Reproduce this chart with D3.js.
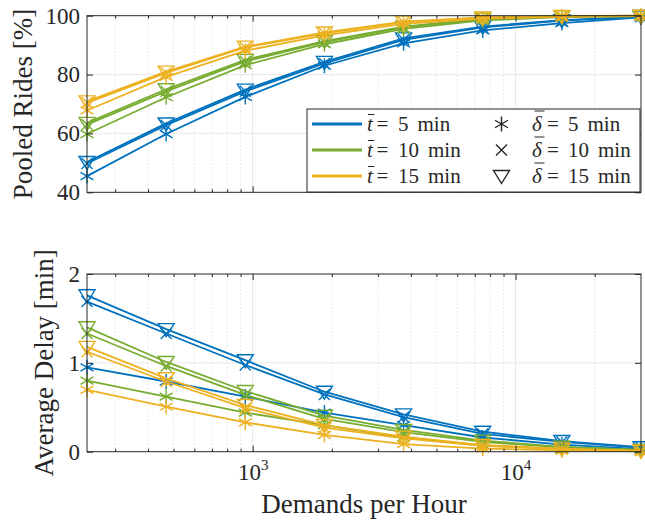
<!DOCTYPE html>
<html lang="en">
<head>
  <meta charset="UTF-8">
  <title>Pooled Rides / Average Delay - D3</title>
  <script src="https://d3js.org/d3.v7.min.js"></script>
  <style>
    body {
      margin: 0;
      background: #fff;
    }

    text {
      font-family: "Liberation Serif", "DejaVu Serif", serif;
      fill: #262626;
    }

    .axis-title {
      font-size: 27px;
      text-anchor: middle;
    }

    .grid-major {
      stroke: #e2e2e2;
      stroke-width: 0.8;
    }

    .grid-minor {
      stroke: #cdcdcd;
      stroke-width: 0.8;
      stroke-dasharray: 1, 2.5;
    }

    .box {
      fill: none;
      stroke: #262626;
      stroke-width: 1;
    }

    .series {
      fill: none;
      stroke-width: 1.8;
    }

    .legend-text {
      font-size: 21px;
    }
  </style>
</head>
<body>

<script>
  // Données
  var demand = [234.375, 468.75, 937.5, 1875, 3750, 7500, 15000, 30000];
  var waitTimes = [5, 10, 15];    // t barre
  var maxDelays = [5, 10, 15];    // delta barre
  var colors = ["#0072BD", "#77AC30", "#EDB120"];
  var majorX = [1000, 10000];
  var minorX = [300, 400, 500, 600, 700, 800, 900,
                2000, 3000, 4000, 5000, 6000, 7000, 8000, 9000, 20000];
  var pooledTicks = [40, 60, 80, 100];
  var delayTicks = [0, 1, 2];

  // Pooled rides [%]
  var pooledT5D5   = [45.5, 59.8, 72.4, 83.0, 90.6, 95.0, 97.5, 99.4];
  var pooledT5D10  = [49.8, 62.8, 74.3, 83.8, 91.8, 96.0, 98.3, 99.6];
  var pooledT5D15  = [50.3, 63.4, 74.9, 84.3, 92.3, 96.3, 98.5, 99.7];
  var pooledT10D5  = [59.8, 72.3, 83.2, 90.3, 95.5, 98.4, 99.5, 99.9];
  var pooledT10D10 = [63.0, 74.3, 84.5, 91.0, 96.0, 98.8, 99.7, 99.9];
  var pooledT10D15 = [63.6, 75.0, 85.0, 91.4, 96.3, 99.0, 99.8, 100];
  var pooledT15D5  = [67.8, 79.2, 88.1, 93.3, 97.2, 99.0, 99.7, 99.9];
  var pooledT15D10 = [70.4, 80.6, 89.2, 94.0, 97.8, 99.3, 99.8, 100];
  var pooledT15D15 = [70.9, 81.0, 89.5, 94.3, 98.0, 99.4, 99.9, 100];

  // Average delay [min]
  var delayT5D5   = [0.95, 0.79, 0.62, 0.44, 0.30, 0.16, 0.08, 0.03];
  var delayT5D10  = [1.69, 1.33, 0.976, 0.645, 0.39, 0.20, 0.11, 0.045];
  var delayT5D15  = [1.76, 1.38, 1.03, 0.675, 0.42, 0.225, 0.12, 0.05];
  var delayT10D5  = [0.80, 0.62, 0.44, 0.30, 0.16, 0.07, 0.03, 0.01];
  var delayT10D10 = [1.33, 0.965, 0.64, 0.37, 0.22, 0.11, 0.05, 0.02];
  var delayT10D15 = [1.40, 1.01, 0.683, 0.405, 0.245, 0.125, 0.055, 0.02];
  var delayT15D5  = [0.695, 0.506, 0.33, 0.19, 0.085, 0.035, 0.015, 0.005];
  var delayT15D10 = [1.125, 0.79, 0.49, 0.27, 0.15, 0.065, 0.03, 0.01];
  var delayT15D15 = [1.18, 0.826, 0.525, 0.30, 0.17, 0.075, 0.035, 0.01];

  var pooledSeries = [
    [pooledT5D5, pooledT5D10, pooledT5D15],
    [pooledT10D5, pooledT10D10, pooledT10D15],
    [pooledT15D5, pooledT15D10, pooledT15D15]
  ];
  var delaySeries = [
    [delayT5D5, delayT5D10, delayT5D15],
    [delayT10D5, delayT10D10, delayT10D15],
    [delayT15D5, delayT15D10, delayT15D15]
  ];

  var svg = d3.select("body")
              .append("svg")
              .attr("width", 645)
              .attr("height", 520);

  // Échelles
  var x = d3.scaleLog().domain([demand[0], demand[demand.length - 1]]).range([87, 641]);
  var yPooled = d3.scaleLinear().domain([40, 100]).range([192.3, 15.7]);
  var yDelay = d3.scaleLinear().domain([0, 2]).range([451.7, 274]);

  // Marqueurs (0: asterisque, 1: croix, 2: triangle vers le bas)
  function marker(sel, type, color) {
    sel.attr("fill", "none").attr("stroke", color).attr("stroke-width", 1.4);
    if (type === 0) {
      var r = 7.5, a = r * Math.cos(Math.PI / 6), b = r * Math.sin(Math.PI / 6);
      sel.append("path").attr("d", `M0,${-r}V${r}M${-a},${-b}L${a},${b}M${-a},${b}L${a},${-b}`);
    } else if (type === 1) {
      var s = 5.5;
      sel.append("path").attr("d", `M${-s},${-s}L${s},${s}M${-s},${s}L${s},${-s}`);
    } else {
      sel.append("path").attr("d", "M-8,-5.5L8,-5.5L0,7.5Z");
    }
  }

  function tickStyle(a) {
    a.selectAll(".tick text")
     .style("font-family", "'Liberation Serif', serif")
     .style("font-size", "23px");
  }

  function panel(y, ticks, series, title, titleX, showXLabels) {
    var g = svg.append("g");
    var xr = x.range(), yr = y.range();

    // Grille
    g.selectAll(".gmin").data(minorX).enter().append("line")
     .attr("class", "grid-minor")
     .attr("x1", d => x(d)).attr("x2", d => x(d))
     .attr("y1", yr[0]).attr("y2", yr[1]);
    g.selectAll(".gmx").data(majorX).enter().append("line")
     .attr("class", "grid-major")
     .attr("x1", d => x(d)).attr("x2", d => x(d))
     .attr("y1", yr[0]).attr("y2", yr[1]);
    g.selectAll(".gmy").data(ticks.slice(1, -1)).enter().append("line")
     .attr("class", "grid-major")
     .attr("x1", xr[0]).attr("x2", xr[1])
     .attr("y1", d => y(d)).attr("y2", d => y(d));

    // Courbes
    var line = d3.line().x((d, i) => x(demand[i])).y(d => y(d));
    series.forEach(function(group, c) {
      group.forEach(function(vals, m) {
        g.append("path")
         .datum(vals)
         .attr("class", "series")
         .attr("stroke", colors[c])
         .attr("d", line);
        g.selectAll(null).data(vals).enter().append("g")
         .attr("transform", (d, i) => `translate(${x(demand[i])},${y(d)})`)
         .each(function() { marker(d3.select(this), m, colors[c]); });
      });
    });

    // Cadre
    g.append("rect").attr("class", "box")
     .attr("x", xr[0]).attr("y", yr[1])
     .attr("width", xr[1] - xr[0]).attr("height", yr[0] - yr[1]);

    function clean(a) { a.select(".domain").remove(); a.attr("color", "#262626"); }

    // Axes X (bas et haut), graduations vers l'intérieur
    var bottom = g.append("g").attr("transform", `translate(0,${yr[0]})`)
      .call(d3.axisBottom(x).tickValues(majorX).tickSizeInner(-6).tickSizeOuter(0)
            .tickPadding(13).tickFormat("")).call(clean);
    g.append("g").attr("transform", `translate(0,${yr[0]})`)
     .call(d3.axisBottom(x).tickValues(minorX).tickSizeInner(-3).tickSizeOuter(0).tickFormat("")).call(clean);
    g.append("g").attr("transform", `translate(0,${yr[1]})`)
     .call(d3.axisTop(x).tickValues(majorX).tickSizeInner(-6).tickSizeOuter(0).tickFormat("")).call(clean);
    g.append("g").attr("transform", `translate(0,${yr[1]})`)
     .call(d3.axisTop(x).tickValues(minorX).tickSizeInner(-3).tickSizeOuter(0).tickFormat("")).call(clean);

    if (showXLabels) {
      bottom.call(tickStyle);
      bottom.selectAll(".tick text").attr("dy", 0).attr("y", 28.5).each(function(d) {
        var t = d3.select(this);
        t.append("tspan").text("10");
        t.append("tspan").attr("dy", -10).style("font-size", "15px").text(Math.round(Math.log10(d)));
      });
    }

    // Axes Y
    g.append("g").attr("transform", `translate(${xr[0]},0)`)
     .call(d3.axisLeft(y).tickValues(ticks).tickSizeInner(-6).tickSizeOuter(0)
           .tickPadding(7).tickFormat(d3.format("d"))).call(clean).call(tickStyle);
    g.append("g").attr("transform", `translate(${xr[1]},0)`)
     .call(d3.axisRight(y).tickValues(ticks).tickSizeInner(-6).tickSizeOuter(0).tickFormat("")).call(clean);

    // Titre axe Y
    g.append("text")
     .attr("class", "axis-title")
     .attr("transform", `translate(${titleX},${(yr[0] + yr[1]) / 2}) rotate(-90)`)
     .text(title);
  }

  panel(yPooled, pooledTicks, pooledSeries, "Pooled Rides [%]", 32, false);
  panel(yDelay, delayTicks, delaySeries, "Average Delay [min]", 53, true);

  // Titre axe X
  svg.append("text")
     .attr("class", "axis-title")
     .attr("x", 364)
     .attr("y", 512.5)
     .text("Demands per Hour");

  // Légende
  var leg = svg.append("g");
  leg.append("rect")
     .attr("x", 307).attr("y", 109)
     .attr("width", 333).attr("height", 83)
     .attr("fill", "#fff").attr("stroke", "#262626").attr("stroke-width", 1);

  function barLabel(x0, yb, sym, val, eqOff, numOff) {
    var t = leg.append("text").attr("class", "legend-text").attr("y", yb);
    t.append("tspan").attr("x", x0).style("font-style", "italic").text(sym);
    t.append("tspan").attr("x", x0 + eqOff).text("=");
    t.append("tspan").attr("x", x0 + numOff).text(val);
    t.append("tspan").attr("x", x0 + numOff + String(val).length * 10.5 + 9).text("min");
    var isT = sym === "t";
    var barTop = isT ? yb - 16 : yb - 19.5;
    leg.append("line")
       .attr("x1", x0 + (isT ? 1 : 2.5)).attr("x2", x0 + (isT ? 7.5 : 12.5))
       .attr("y1", barTop).attr("y2", barTop)
       .attr("stroke", "#262626").attr("stroke-width", 1);
  }

  waitTimes.forEach(function(w, i) {
    var yc = 124 + i * 26;
    leg.append("line")
       .attr("x1", 312).attr("x2", 362)
       .attr("y1", yc).attr("y2", yc)
       .attr("stroke", colors[i]).attr("stroke-width", 3);
    barLabel(367, yc + 6.5, "t", w, 9.5, 31);
  });

  maxDelays.forEach(function(dl, i) {
    var yc = 124 + i * 26;
    leg.append("g")
       .attr("transform", `translate(501.5,${yc})`)
       .each(function() { marker(d3.select(this), i, "#262626"); });
    barLabel(532, yc + 6.5, "δ", dl, 15, 36);
  });
</script>

</body>
</html>
